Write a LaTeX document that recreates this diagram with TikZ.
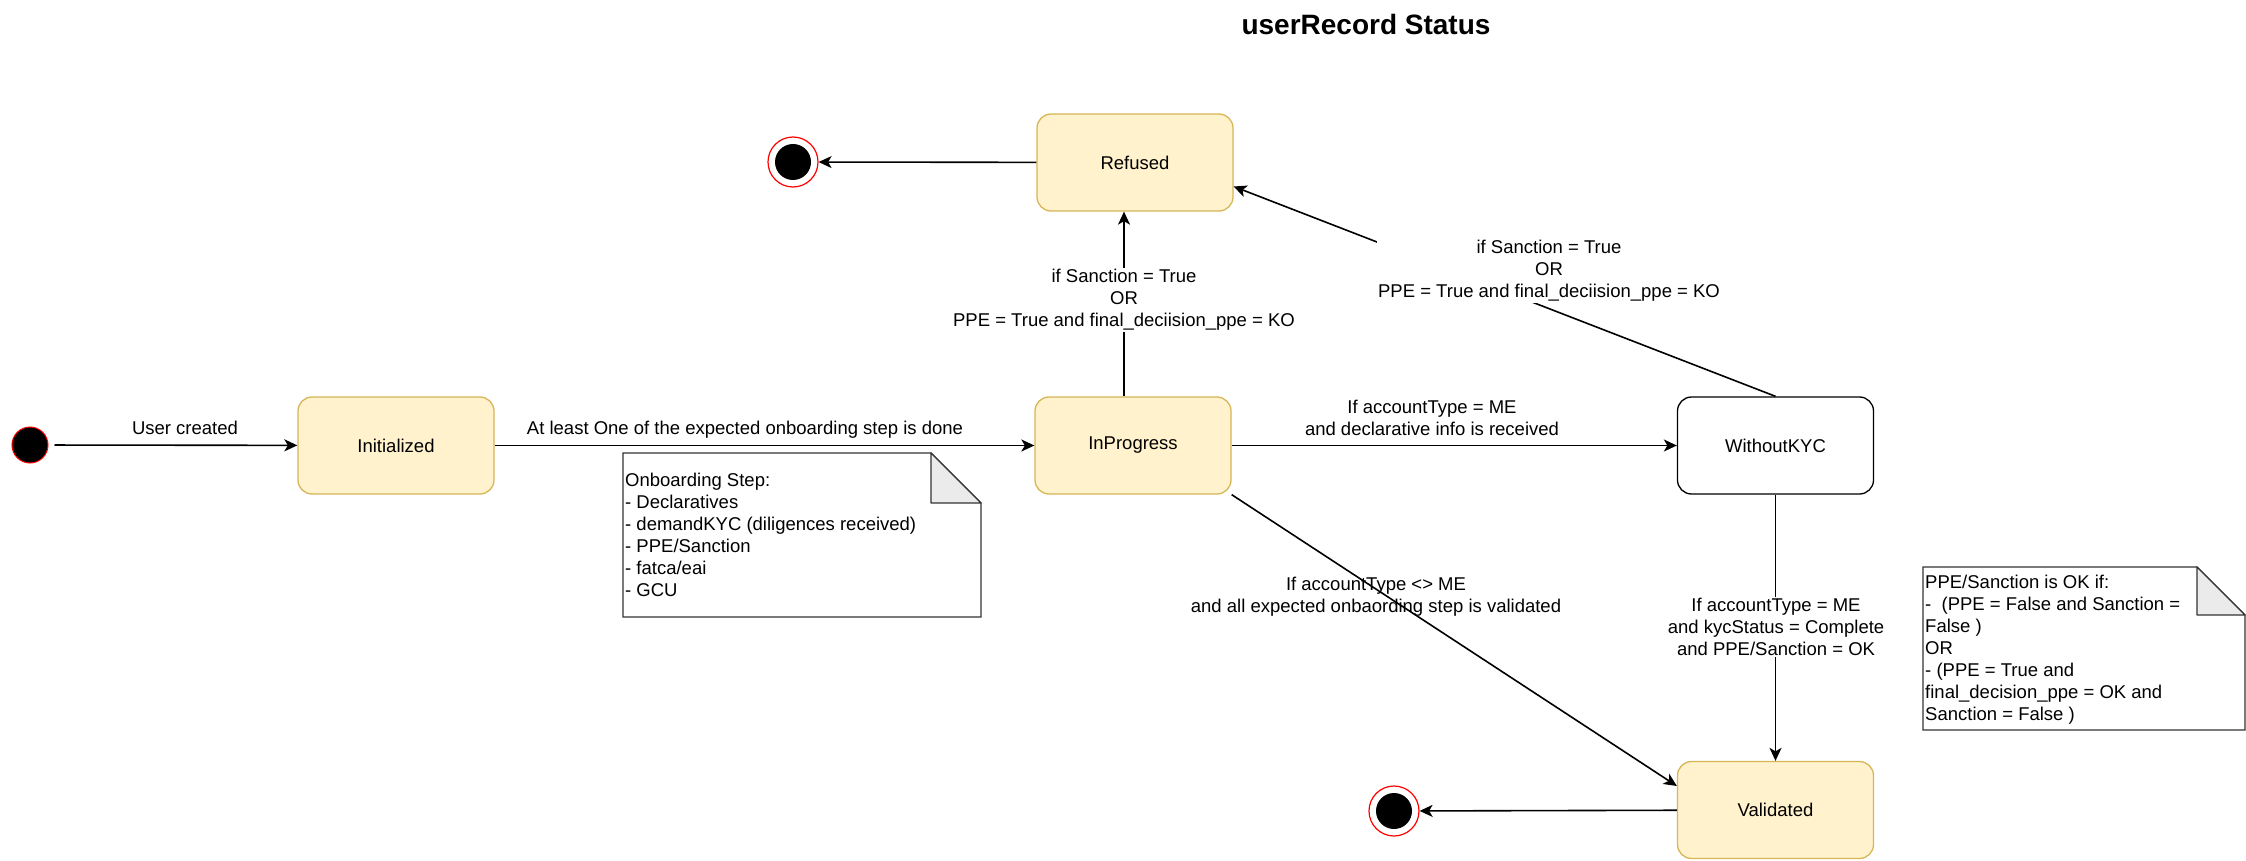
\documentclass[tikz,border=0pt]{standalone}
\usepackage{fontspec}
\setmainfont{Liberation Sans}
\usetikzlibrary{arrows.meta}
\definecolor{stfill}{HTML}{FFF2CC}
\definecolor{stdraw}{HTML}{D6B656}
\definecolor{notefold}{HTML}{EBEBEB}
\definecolor{notedraw}{HTML}{333333}
\begin{document}
\begin{tikzpicture}[x=1pt,y=-1pt,
  txt/.style={font=\fontsize{18.5}{22}\selectfont},
  lbl/.style={txt, align=center, inner sep=1pt},
  state/.style={txt, rounded corners=14pt, draw=stdraw, fill=stfill, line width=1.3pt,
    minimum width=196pt, minimum height=97pt, inner sep=0pt},
  plainstate/.style={state, draw=black, fill=white},
  startstate/.style={circle, draw=red, fill=black, line width=1pt, minimum size=36pt, inner sep=0pt},
  endstate/.style={circle, draw=red, fill=white, line width=1.2pt, minimum size=50pt, inner sep=0pt,
    path picture={\fill[black] (path picture bounding box.center) circle (18pt);}},
  arr/.style={line width=1.6pt, -{Stealth[length=13pt, width=12pt, inset=3.5pt]}},
  notebody/.style={draw=notedraw, fill=white, line width=1.3pt},
  notecorner/.style={draw=notedraw, fill=notefold, line width=1.3pt, line join=round}
]
\useasboundingbox (0,0) rectangle (2246,861);

% title
\node[font=\bfseries\fontsize{28}{32}\selectfont] (title) at (1366,24) {userRecord Status};

% states
\node[startstate] (start) at (30,445) {};
\node[state] (init) at (396,445.5) {Initialized};
\node[state] (ip) at (1133,445.5) {InProgress};
\node[state] (ref) at (1135,162.5) {Refused};
\node[plainstate] (wk) at (1775.5,445.5) {WithoutKYC};
\node[state] (val) at (1775.5,810) {Validated};
\node[endstate] (end1) at (793,162) {};
\node[endstate] (end2) at (1394,811) {};

% connectors
\draw[arr, shorten <=6pt] (start) -- (init);
\draw[arr] (init) -- (ip);
\draw[arr] ([xshift=-9pt]ip.north) -- ([xshift=-11pt]ref.south);
\draw[arr] (ref) -- (end1);
\draw[arr] (ip) -- (wk);
\draw[arr] (wk.north) -- ([yshift=-24pt]ref.east);
\draw[arr] (ip.south east) -- ([yshift=24pt]val.west);
\draw[arr] (wk) -- (val);
\draw[arr] (val) -- (end2);

% connector labels
\node[lbl] (lUser) at (185,428) {User created};
\node[lbl] (lStep) at (745,430) {At least One of the expected onboarding step is done};
\node[lbl, fill=white] (lRefA) at (1124,300) {if Sanction = True\\OR\\PPE = True and final\_deciision\_ppe = KO};
\node[lbl] (lWk) at (1432,418) {If accountType = ME\\and declarative info is received};
\node[lbl, fill=white] (lRefB) at (1549,271) {if Sanction = True\\OR\\PPE = True and final\_deciision\_ppe = KO};
\node[lbl] (lValA) at (1376,597) {If accountType <> ME\\and all expected onbaording step is validated};
\node[lbl, fill=white] (lValB) at (1776,627) {If accountType = ME\\and kycStatus = Complete\\and PPE/Sanction = OK};

% note 1
\draw[notebody] (623,453) -- (931,453) -- (981,503) -- (981,617) -- (623,617) -- cycle;
\draw[notecorner] (931,453) -- (931,503) -- (981,503) -- cycle;
\node[txt, align=left, anchor=north west, inner sep=0pt] (note1) at (625,473)
  {Onboarding Step:\\- Declaratives\\- demandKYC (diligences received)\\- PPE/Sanction\\- fatca/eai\\- GCU};

% note 2
\draw[notebody] (1923,567) -- (2197,567) -- (2245,615) -- (2245,730) -- (1923,730) -- cycle;
\draw[notecorner] (2197,567) -- (2197,615) -- (2245,615) -- cycle;
\node[txt, align=left, anchor=north west, inner sep=0pt] (note2) at (1925,575)
  {PPE/Sanction is OK if:\\-\ \ (PPE = False and Sanction =\\False )\\OR\\- (PPE = True and\\final\_decision\_ppe = OK and\\Sanction = False )};
\end{tikzpicture}
\end{document}
